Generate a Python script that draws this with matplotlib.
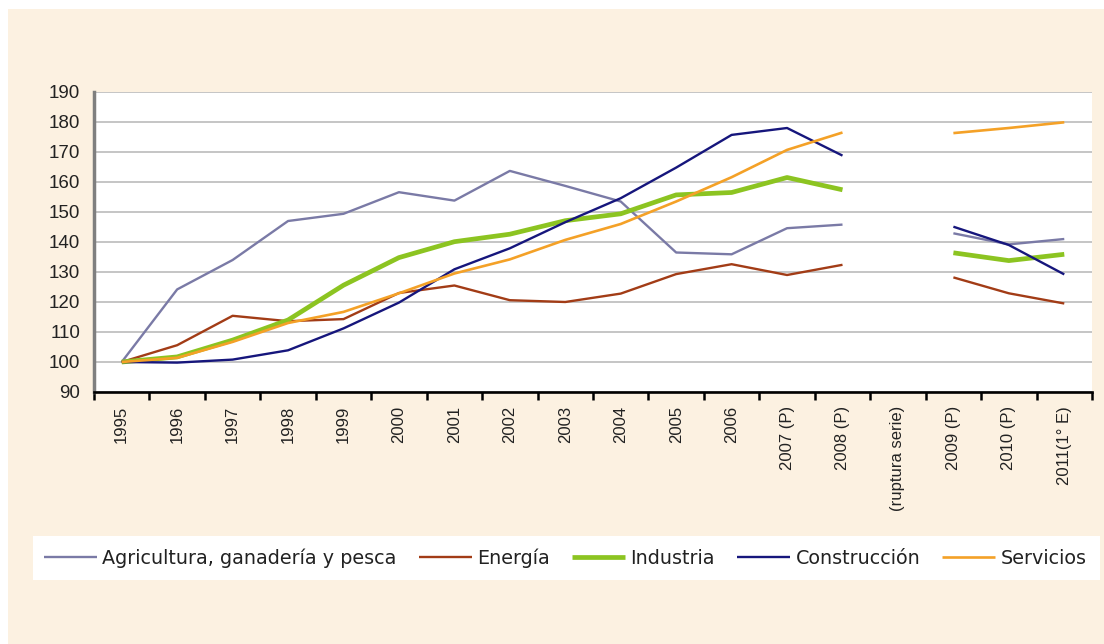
import numpy as np
import matplotlib
matplotlib.use("Agg")
import matplotlib.pyplot as plt
from matplotlib.patches import Rectangle

plt.rcParams['font.family'] = ['Liberation Sans', 'DejaVu Sans']

categories = ["1995", "1996", "1997", "1998", "1999", "2000", "2001", "2002",
              "2003", "2004", "2005", "2006", "2007 (P)", "2008 (P)",
              "(ruptura serie)", "2009 (P)", "2010 (P)", "2011(1° E)"]

nan = np.nan
agricultura = [100, 124.2, 134, 147, 149.4, 156.6, 153.8, 163.7, 158.7, 153.5,
               136.5, 135.9, 144.6, 145.8, nan, 142.9, 139.2, 141]
energia = [100, 105.6, 115.4, 113.6, 114.3, 123, 125.5, 120.6, 120, 122.8,
           129.3, 132.6, 129, 132.4, nan, 128.2, 122.9, 119.5]
industria = [100, 101.7, 107.3, 114, 125.6, 134.8, 140.1, 142.6, 147.1, 149.4,
             155.7, 156.5, 161.5, 157.4, nan, 136.4, 133.8, 135.9]
construccion = [100, 99.8, 100.8, 103.9, 111.2, 119.8, 130.9, 137.9, 146.6, 154.6,
                164.8, 175.7, 178, 168.8, nan, 145.1, 139, 129.2]
servicios = [100, 101.4, 106.7, 113, 116.7, 122.9, 129.5, 134.2, 140.7, 146,
             153.5, 161.6, 170.7, 176.5, nan, 176.3, 178, 179.9]

series_names = ["Agricultura, ganadería y pesca", "Energía", "Industria",
                "Construcción", "Servicios"]
series_values = [agricultura, energia, industria, construccion, servicios]
series_colors = ["#7a7aa6", "#a23c16", "#8cc421", "#16167c", "#f4a127"]
series_widths = [1.7, 1.7, 3.4, 1.7, 1.9]

yticks = [90, 100, 110, 120, 130, 140, 150, 160, 170, 180, 190]

fig = plt.figure(figsize=(11.04, 6.44), dpi=100, facecolor="white")
fig.patches.append(Rectangle((8 / 1104, 0), 1 - 8 / 1104, 1 - 9 / 644,
                             transform=fig.transFigure, facecolor="#fcf1e1",
                             edgecolor="none", zorder=-10))
# white legend band
fig.patches.append(Rectangle((33 / 1104, 1 - 580 / 644), (1100 - 33) / 1104, 44 / 644,
                             transform=fig.transFigure, facecolor="white",
                             edgecolor="none", zorder=-5))

ax = fig.add_axes([94 / 1104, 1 - 392 / 644, (1092 - 94) / 1104, 300 / 644])
ax.set_facecolor("white")

x = np.arange(len(categories))
for name, vals, col, lw in zip(series_names, series_values, series_colors, series_widths):
    ax.plot(x, vals, color=col, lw=lw, label=name, solid_capstyle="butt",
            solid_joinstyle="round")

ax.set_xlim(-0.5, len(categories) - 0.5)
ax.set_ylim(90, 190)
ax.set_yticks(yticks)
ax.set_yticklabels([str(v) for v in yticks], fontsize=13.5, color="#222222")
ax.yaxis.grid(True, color="#c0c0c0", lw=1.3)
ax.set_axisbelow(True)
ax.tick_params(axis="y", length=0, pad=10)

ax.set_xticks(x)
ax.set_xticklabels(categories, rotation=90, fontsize=12, color="#222222")
ax.set_xticks(np.arange(len(categories) + 1) - 0.5, minor=True)
ax.tick_params(axis="x", which="major", length=0, pad=10)
ax.tick_params(axis="x", which="minor", length=5.5, width=1.8, color="black",
               direction="out")

for s in ["top", "right"]:
    ax.spines[s].set_visible(False)
ax.spines["left"].set_color("#7f7f7f")
ax.spines["left"].set_linewidth(2.5)
ax.spines["bottom"].set_color("black")
ax.spines["bottom"].set_linewidth(1.9)

leg = fig.legend(loc="center left", ncol=5,
                 bbox_to_anchor=(44 / 1104, 1 - 558 / 644),
                 frameon=False, handlelength=2.75,
                 handletextpad=0.3, columnspacing=1.15, borderaxespad=0,
                 borderpad=0, prop={'family': ['DejaVu Sans'], 'size': 13.8})
for t in leg.get_texts():
    t.set_color("#222222")

fig.savefig("out.png", dpi=100, facecolor=fig.get_facecolor())
